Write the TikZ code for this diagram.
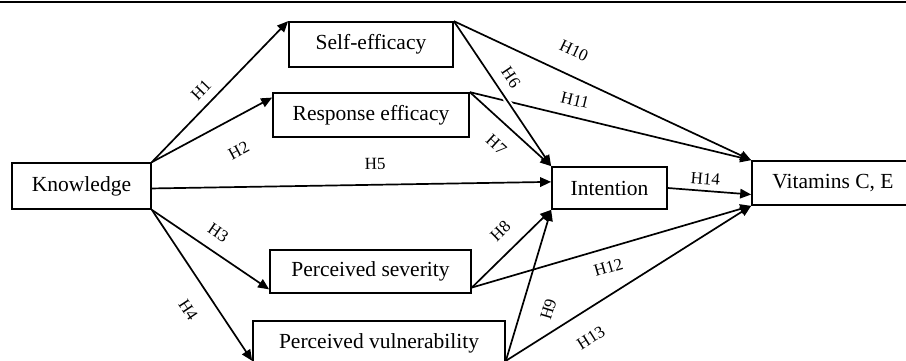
\documentclass[tikz,border=0pt]{standalone}
\usepackage{fontspec}
\setmainfont{Liberation Serif}
\usetikzlibrary{arrows.meta}

\begin{document}
\begin{tikzpicture}[x=1pt, y=-1pt,
	link/.style={line width=1.7pt, -{Triangle[length=11pt, width=9.5pt]}},
	bridge/.style={preaction={draw, -, white, line width=6pt, shorten <=22pt, shorten >=22pt}},
	hyp/.style={font=\fontsize{17}{17}\selectfont, inner sep=0pt}]

	%% Fix the frame of the page and cut off what runs beyond it
	\useasboundingbox (0,0) rectangle (906,360);
	\clip (0,0) rectangle (906,360);

	%% The rule along the top
	\draw[line width=2pt] (0,2) -- (906,2);

	%% The constructs (centre, width, height in pixels)
	\begin{scope}[every node/.style={draw, line width=1.7pt, rectangle, inner sep=0pt, font=\fontsize{21.5}{25}\selectfont}]
		\node[minimum width=139pt, minimum height=46pt] at (81.5,186) (know) {Knowledge};
		\node[minimum width=164pt, minimum height=45pt] at (371,44.5) (self) {Self-efficacy};
		\node[minimum width=196pt, minimum height=44pt] at (371,115) (resp) {Response efficacy};
		\node[minimum width=201pt, minimum height=43pt] at (370.5,271.5) (sev) {Perceived severity};
		\node[minimum width=252pt, minimum height=44pt] at (379,343) (vul) {Perceived vulnerability};
		\node[minimum width=115pt, minimum height=42pt] at (609.5,188) (intent) {Intention};
		\node[minimum width=162pt, minimum height=44pt] at (833,183) (vit) {Vitamins C, E};
	\end{scope}

	%% The hypotheses: from / to / label / position / offset of the label
	\foreach \from/\to/\h/\t/\d in {%
		know.north east/self.north west/H1/0.44/15,
		know.north east/resp.170/H2/0.6/-31,
		know.358/intent.174/H5/0.56/21,
		know.south east/sev.190/H3/0.48/18,
		know.south east/vul.188/H4/0.57/-25,
		resp.north east/intent.north west/H7/0.5/-21,
		sev.351/intent.south west/H8/0.54/20.5,
		vul.352/intent.south west/H9/0.39/-26,
		self.north east/vit.north west/H10/0.37/24,
		resp.north east/vit.north west/H11/0.36/17,
		sev.351/vit.south west/H12/0.47/-19,
		vul.352/vit.south west/H13/0.29/-26,
		intent.east/vit.188/H14/0.44/12}{%
		\draw[link] (\from) -- (\to) node[hyp, pos=\t, sloped, yshift=\d pt] {\h};
	}

	%% H6 goes over H11, which is broken where they cross
	\draw[link, bridge] (self.north east) -- (intent.north west) node[hyp, pos=0.45, sloped, yshift=16pt] {H6};

\end{tikzpicture}
\end{document}
